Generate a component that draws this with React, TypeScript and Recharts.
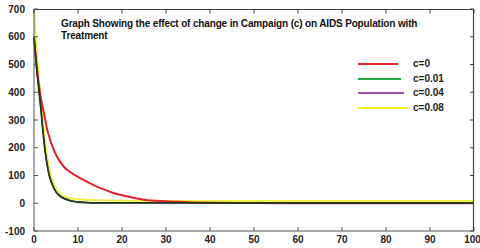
import React from "react";
import { LineChart, Line, XAxis, YAxis } from "recharts";

// time points (x axis)
const xs = [0, 0.5, 1, 1.5, 2, 2.5, 3, 3.5, 4, 5, 6, 7, 8, 9, 10, 12, 14, 16, 18, 20, 25, 30, 35, 40, 50, 60, 70, 80, 90, 100];

// AIDS population
const c0 = [600, 510, 440, 385, 345, 305, 265, 238, 213, 175, 148, 128, 115, 104, 95, 78, 62, 49, 37, 29, 13, 7, 4, 2, 1, 0, 0, 0, 0, 0];
const c001 = [600, 510, 430, 355, 270, 195, 140, 100, 75, 42, 26, 17, 11, 7, 5, 3, 2, 2, 2, 2, 2, 2, 2, 2, 2, 2, 2, 2, 2, 2];
const c004 = [600, 500, 420, 345, 262, 188, 135, 96, 72, 40, 24, 15, 10, 6, 4, 2, 1, 1, 1, 1, 1, 1, 1, 1, 1, 1, 1, 1, 1, 1];
const c008 = [700, 580, 470, 380, 300, 225, 165, 122, 92, 55, 35, 25, 19, 16, 14, 12, 11, 10, 9, 9, 8, 8, 8, 8, 8, 8, 8, 8, 8, 8];

const xTicks = [0, 10, 20, 30, 40, 50, 60, 70, 80, 90, 100];
const yTicks = [-100, 0, 100, 200, 300, 400, 500, 600, 700];

const legendItems = [
  { label: "c=0", color: "#e3242b", len: 40 },
  { label: "c=0.01", color: "#23a84a", len: 43 },
  { label: "c=0.04", color: "#9b4fa6", len: 46 },
  { label: "c=0.08", color: "#f5f021", len: 50 },
];

const data = xs.map((x, i) => ({ x, c0: c0[i], c001: c001[i], c004: c004[i], c008: c008[i] }));

const FONT = "'Liberation Sans', Arial, sans-serif";
const AX = "#555";
const BORDER = "#444";
const tickStyle = { fontSize: 10, fontWeight: "bold", fill: "#222", fontFamily: FONT };

// plot box (chart margins + axis sizes)
const W = 480;
const H = 248;
const M = { top: 9, right: 6, left: 0, bottom: 0 };
const Y_W = 34;
const X_H = 17;
const box = { left: M.left + Y_W, top: M.top, width: W - M.left - Y_W - M.right, height: H - M.top - M.bottom - X_H };

// top and right frame with inward ticks, drawn as an svg overlay
function Frame() {
  const x0 = box.left;
  const x1 = box.left + box.width;
  const y0 = box.top + 0.5;
  const y1 = box.top + box.height;
  return (
    <svg
      width={W}
      height={H}
      style={{ position: "absolute", left: 0, top: 0, pointerEvents: "none", zIndex: 5 }}
    >
      <line x1={x0} y1={y0} x2={x1} y2={y0} stroke={BORDER} strokeWidth={1.2} />
      <line x1={x1 - 0.5} y1={y0} x2={x1 - 0.5} y2={y1} stroke={BORDER} strokeWidth={1.2} />
      {xTicks.map((t) => {
        const x = x0 + (t / 100) * box.width;
        return <line key={"t" + t} x1={x} y1={y0} x2={x} y2={y0 + 4} stroke={BORDER} strokeWidth={1} />;
      })}
      {yTicks.map((t) => {
        const y = box.top + ((700 - t) / 800) * box.height;
        return <line key={"r" + t} x1={x1 - 4} y1={y} x2={x1} y2={y} stroke={BORDER} strokeWidth={1} />;
      })}
    </svg>
  );
}

function LegendBox() {
  return (
    <div
      style={{
        position: "absolute",
        left: 358,
        top: 57,
        width: 110,
        fontFamily: FONT,
        fontSize: 10,
        fontWeight: "bold",
        color: "#222",
      }}
    >
      {legendItems.map((it) => (
        <div key={it.label} style={{ position: "relative", height: 14.7 }}>
          <div style={{ position: "absolute", left: 0, top: 6, width: it.len, height: 2, background: it.color }} />
          <div style={{ position: "absolute", left: 55, top: 1, lineHeight: "12px" }}>{it.label}</div>
        </div>
      ))}
    </div>
  );
}

export default function App() {
  return (
    <div style={{ position: "fixed", left: 0, top: 0, width: W, height: H, background: "#fff" }}>
      <LineChart width={W} height={H} data={data} margin={M}>
        <XAxis
          dataKey="x"
          type="number"
          domain={[0, 100]}
          ticks={xTicks}
          height={X_H}
          tickSize={-4}
          tickMargin={9}
          tick={tickStyle}
          axisLine={{ stroke: AX }}
          tickLine={{ stroke: AX }}
        />
        <YAxis
          type="number"
          domain={[-100, 700]}
          ticks={yTicks}
          width={Y_W}
          tickSize={-4}
          tickMargin={13}
          tick={tickStyle}
          axisLine={{ stroke: AX }}
          tickLine={{ stroke: AX }}
        />
        <Line type="monotone" dataKey="c008" stroke="#eef04a" strokeWidth={2} dot={false} isAnimationActive={false} />
        <Line type="monotone" dataKey="c0" stroke="#e0232a" strokeWidth={2} dot={false} isAnimationActive={false} />
        <Line type="monotone" dataKey="c004" stroke="#2e2a30" strokeWidth={1.5} dot={false} isAnimationActive={false} />
        <Line type="monotone" dataKey="c001" stroke="#1f3a1c" strokeWidth={1.5} dot={false} isAnimationActive={false} />
      </LineChart>
      <Frame />
      <LegendBox />
      <div
        style={{
          position: "absolute",
          left: 61,
          top: 18,
          fontFamily: FONT,
          fontSize: 10,
          fontWeight: "bold",
          color: "#111",
          lineHeight: "12px",
          letterSpacing: "-0.15px",
          whiteSpace: "nowrap",
        }}
      >
        Graph Showing the effect of change in Campaign (c) on AIDS Population with
        <br />
        Treatment
      </div>
    </div>
  );
}
